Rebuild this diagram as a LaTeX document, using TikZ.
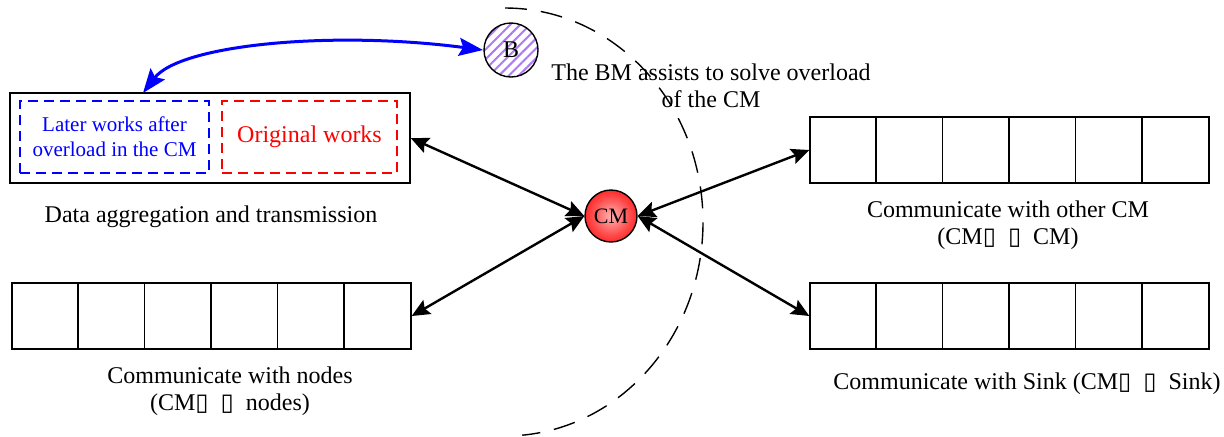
\documentclass[tikz,border=0pt]{standalone}
\usepackage{fontspec}
\setmainfont{Liberation Serif}
\newfontfamily\tofufont{DejaVu Sans}
\usetikzlibrary{arrows.meta,patterns.meta}
\newcommand{\tofu}{{\tofufont\char"25AF}}
\definecolor{stripe}{RGB}{175,120,245}
\pgfdeclareradialshading{cmshade}{\pgfpoint{0bp}{0bp}}{color(0bp)=(red!30!white); color(18bp)=(red!70!white); color(34bp)=(red); color(50bp)=(red!90!black)}

\begin{document}
\begin{tikzpicture}[x=0.5pt, y=-0.5pt, font=\fontsize{12}{13.5}\selectfont,
    cell/.style={draw, line width=0.7pt, minimum width=199.5pt, minimum height=33pt, inner sep=0pt},
    link/.style={line width=1.2pt, {Stealth[length=9pt,width=8pt,inset=1.5pt]}-{Stealth[length=9pt,width=8pt,inset=1.5pt]}},
    worksbox/.style={line width=0.7pt, dash pattern=on 5pt off 3pt, align=center, minimum height=36pt, inner sep=1pt}]
    \useasboundingbox (0,0) rectangle (1224,436);

    % Rows of cells
    \node[cell] (nodesrow) at (211.5,316) {};
    \node[cell] (otherrow) at (1009.5,150) {};
    \node[cell] (sinkrow) at (1009.5,316) {};
    \foreach \r in {nodesrow,otherrow,sinkrow}
        \foreach \i in {1,...,5}
            \draw[line width=0.7pt] ([xshift=\i*33.25pt]\r.north west) -- ([xshift=\i*33.25pt]\r.south west);

    % Data box
    \node[draw, line width=0.7pt, minimum width=200pt, minimum height=45pt] (data) at (210,138) {};
    \node[worksbox, draw=blue, text=blue, minimum width=94.5pt, font=\fontsize{10.5}{12.5}\selectfont] (later) at (114.5,137) {Later works after\\overload in the CM};
    \node[worksbox, draw=red, text=red, minimum width=87.5pt] (orig) at (309.5,137) {Original works};

    % Dashed range of the BM
    \draw[line width=0.7pt, dash pattern=on 11pt off 7pt] (505,8) arc[start angle=-90, end angle=85, x radius=198, y radius=214];

    % CM and BM
    \node[circle, draw, line width=0.7pt, minimum size=26pt, inner sep=0pt, shading=cmshade, font=\fontsize{11}{13}\selectfont] (cm) at (611,216) {CM};
    \node[circle, draw, line width=0.7pt, minimum size=27pt, inner sep=0pt,
        pattern={Lines[angle=45,distance=3.5pt,line width=1pt]}, pattern color=stripe] (bm) at (511,50) {B};

    \draw[link] (data.east) -- (cm.west);
    \draw[link] (nodesrow.east) -- (cm.west);
    \draw[link] (cm.east) -- (otherrow.west);
    \draw[link] (cm.east) -- (sinkrow.west);

    \coordinate (datatop) at (143,93);
    \draw[blue, line width=1.5pt, {Stealth[length=12pt,width=9pt,inset=2pt]}-{Stealth[length=12pt,width=9pt,inset=2pt]}]
        (datatop) .. controls (180,45) and (330,30) .. (bm.west);

    % Labels
    \node[align=center] (bmnote) at (711,86) {The BM assists to solve overload\\of the CM};
    \node (datalabel) at (211,217) {Data aggregation and transmission};
    \node[align=center] (nodeslabel) at (230,391) {Communicate with nodes\\(CM\tofu\ \ \tofu\ \ nodes)};
    \node[align=center] (otherlabel) at (1008,225) {Communicate with other CM\\(CM\tofu\ \ \tofu\ \ CM)};
    \node (sinklabel) at (1027,384) {Communicate with Sink (CM\tofu\ \ \tofu\ \ Sink)};

\end{tikzpicture}
\end{document}
